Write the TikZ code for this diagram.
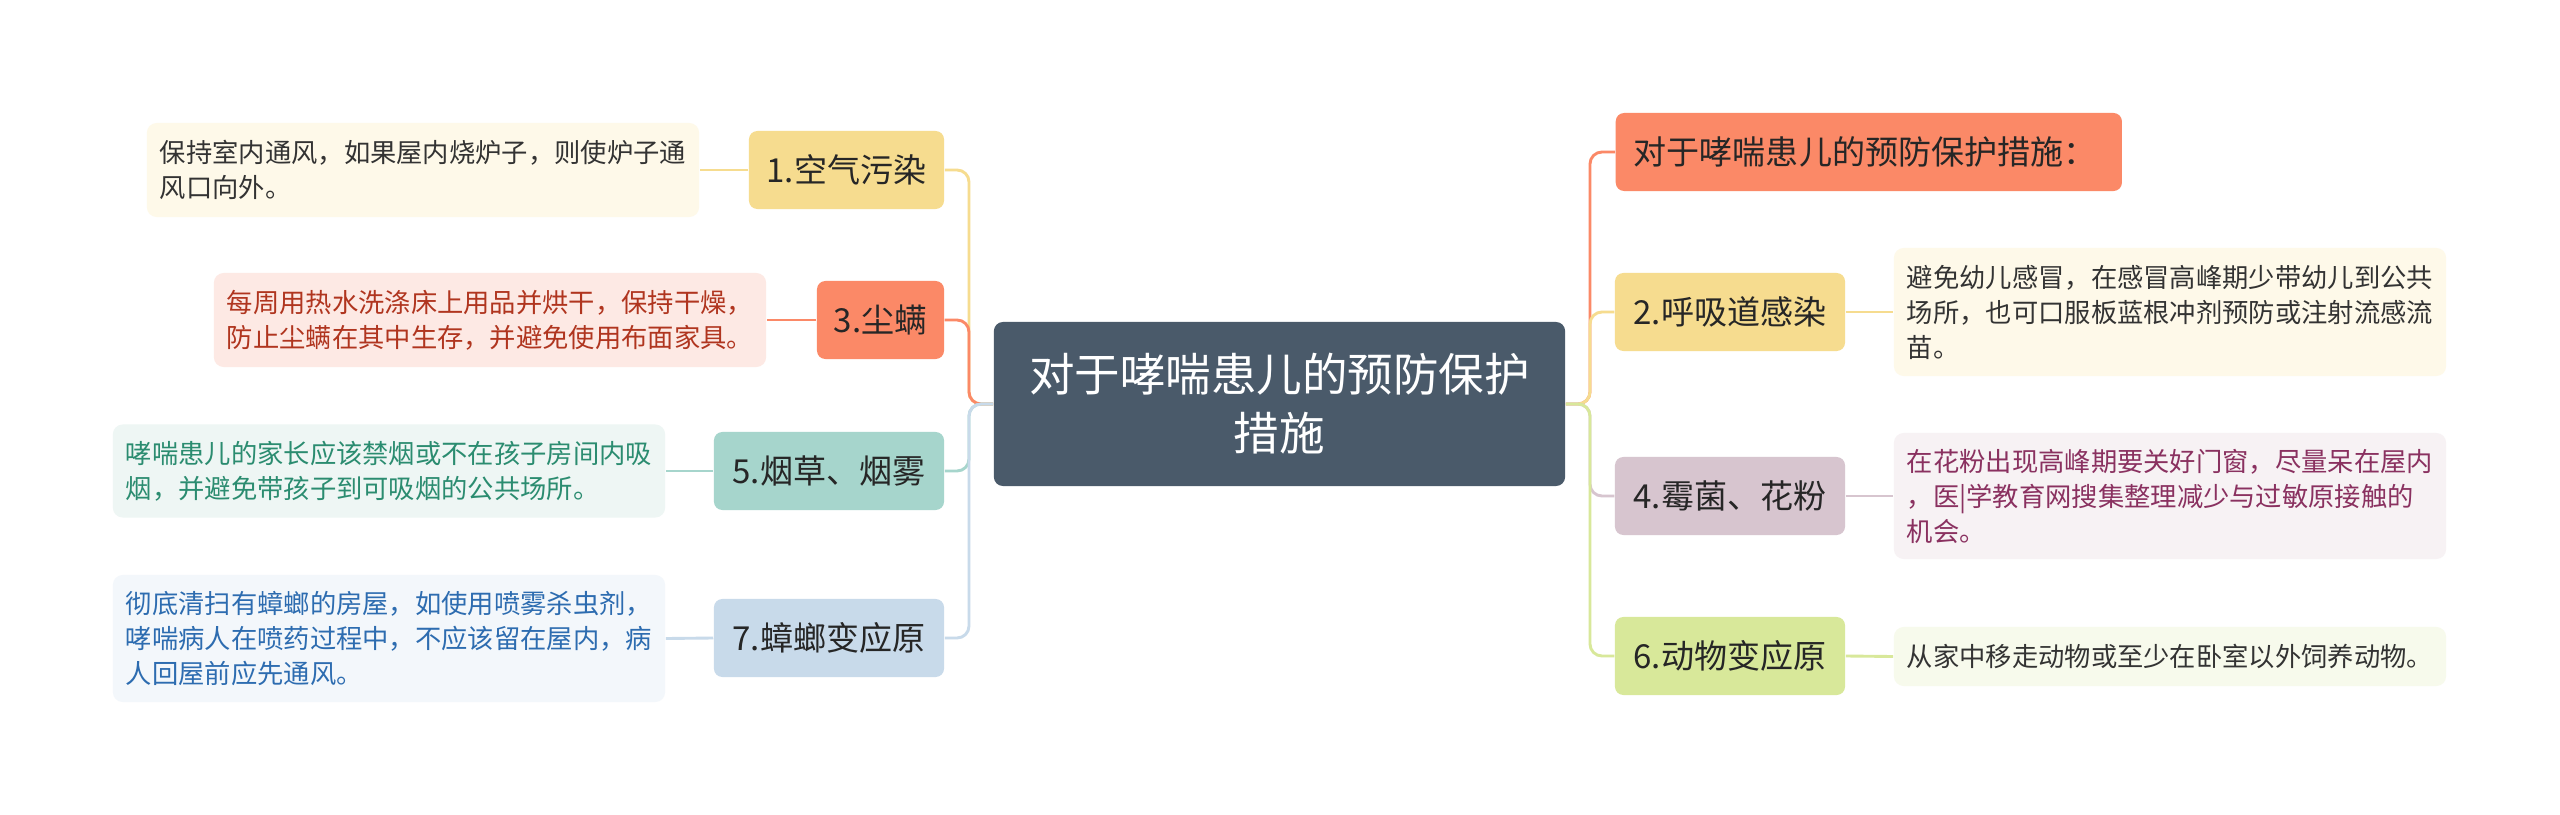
\documentclass[tikz,border=0pt]{standalone}
\usepackage{fontspec}
\setmainfont{Noto Sans CJK SC}
\definecolor{cyel}{HTML}{F6DC8F}
\definecolor{cora}{HTML}{FB8967}
\definecolor{cteal}{HTML}{A6D5CC}
\definecolor{cblue}{HTML}{C8DAEA}
\definecolor{cmauve}{HTML}{D7C5CF}
\definecolor{cgreen}{HTML}{D8E89A}
\definecolor{croot}{HTML}{4A5A6A}
\definecolor{fyel}{HTML}{FEF9E9}
\definecolor{fora}{HTML}{FDE9E4}
\definecolor{fteal}{HTML}{EEF6F4}
\definecolor{fblue}{HTML}{F3F7FB}
\definecolor{fmauve}{HTML}{F7F2F4}
\definecolor{fgreen}{HTML}{F7FAEC}
\definecolor{tdark}{HTML}{333333}
\definecolor{tred}{HTML}{B0351F}
\definecolor{tteal}{HTML}{2B8C70}
\definecolor{tblue}{HTML}{2D6CB0}
\definecolor{tpurple}{HTML}{8A3160}
\begin{document}
\begin{tikzpicture}[x=0.01cm,y=-0.01cm,
  rootbox/.style={fill=croot, rounded corners=2.6pt, text=white, align=center,
    minimum width=571*0.2845pt, minimum height=164*0.2845pt, inner sep=0pt,
    font=\fontsize{12.95pt}{16.8pt}\selectfont},
  topicbox/.style={fill=#1, rounded corners=2.4pt, text=black!85, inner sep=0pt,
    minimum height=78*0.2845pt, font=\fontsize{9.4pt}{11pt}\selectfont},
  descbox/.style={fill=#1, rounded corners=2.8pt, align=left, text width=526*0.2845pt,
    inner xsep=13*0.2845pt, inner ysep=0pt, font=\fontsize{7.48pt}{9.96pt}\selectfont},
  link/.style={draw=#1, line width=0.82pt, rounded corners=3.4pt}
]
\useasboundingbox[fill=white] (0,0) rectangle (2560,815);

% root
\node[rootbox] (root) at (1279.5,404) {对于哮喘患儿的预防保护\\措施};

% trunk coordinates
\coordinate (tl) at (969,404);
\coordinate (tr) at (1590,404);

% left topics
\node[topicbox=cyel, minimum width=195*0.2845pt] (n1) at (846.5,170) {1.空气污染};
\node[topicbox=cora, minimum width=127*0.2845pt] (n3) at (880.5,320) {3.尘螨};
\node[topicbox=cteal, minimum width=230*0.2845pt] (n5) at (829,471) {5.烟草、烟雾};
\node[topicbox=cblue, minimum width=230*0.2845pt] (n7) at (829,638) {7.蟑螂变应原};

% left descriptions
\node[descbox=fyel, text=tdark, minimum height=94*0.2845pt] (d1) at (423,170)
  {保持室内通风，如果屋内烧炉子，则使炉子通\\风口向外。};
\node[descbox=fora, text=tred, minimum height=94*0.2845pt] (d3) at (490,320)
  {每周用热水洗涤床上用品并烘干，保持干燥，\\防止尘螨在其中生存，并避免使用布面家具。};
\node[descbox=fteal, text=tteal, minimum height=93*0.2845pt] (d5) at (389,471)
  {哮喘患儿的家长应该禁烟或不在孩子房间内吸\\烟，并避免带孩子到可吸烟的公共场所。};
\node[descbox=fblue, text=tblue, minimum height=127*0.2845pt] (d7) at (389,638.5)
  {彻底清扫有蟑螂的房屋，如使用喷雾杀虫剂，\\哮喘病人在喷药过程中，不应该留在屋内，病\\人回屋前应先通风。};

% right topics
\node[topicbox=cora, minimum width=506*0.2845pt, anchor=west, text width=470*0.2845pt, align=left] (n0) at (1615,152) {对于哮喘患儿的预防保护措施：};
\node[topicbox=cyel, minimum width=230*0.2845pt] (n2) at (1730,312) {2.呼吸道感染};
\node[topicbox=cmauve, minimum width=230*0.2845pt] (n4) at (1730,496) {4.霉菌、花粉};
\node[topicbox=cgreen, minimum width=230*0.2845pt] (n6) at (1730,656) {6.动物变应原};

% right descriptions
\node[descbox=fyel, text=tdark, minimum height=128*0.2845pt] (d2) at (2170,312)
  {避免幼儿感冒，在感冒高峰期少带幼儿到公共\\场所，也可口服板蓝根冲剂预防或注射流感流\\苗。};
\node[descbox=fmauve, text=tpurple, minimum height=126*0.2845pt] (d4) at (2170,496)
  {在花粉出现高峰期要关好门窗，尽量呆在屋内\\，医|学教育网搜集整理减少与过敏原接触的\\机会。};
\node[descbox=fgreen, text=tdark, minimum height=59*0.2845pt] (d6) at (2170,656.5)
  {从家中移走动物或至少在卧室以外饲养动物。};

% left connectors root -> topics
\draw[link=cyel] (root.west) -- (tl) |- (n1.east);
\draw[link=cora] (root.west) -- (tl) |- (n3.east);
\draw[link=cteal] (root.west) -- (tl) |- (n5.east);
\draw[link=cblue] (root.west) -- (tl) |- (n7.east);

% right connectors root -> topics
\draw[link=cora] (root.east) -- (tr) |- (n0.west);
\draw[link=cyel] (root.east) -- (tr) |- (n2.west);
\draw[link=cmauve] (root.east) -- (tr) |- (n4.west);
\draw[link=cgreen] (root.east) -- (tr) |- (n6.west);

% topic -> description connectors
\draw[link=cyel] (n1.west) -- (d1.east);
\draw[link=cora] (n3.west) -- (d3.east);
\draw[link=cteal] (n5.west) -- (d5.east);
\draw[link=cblue] (n7.west) -- (d7.east);
\draw[link=cyel] (n2.east) -- (d2.west);
\draw[link=cmauve] (n4.east) -- (d4.west);
\draw[link=cgreen] (n6.east) -- (d6.west);
\end{tikzpicture}
\end{document}
